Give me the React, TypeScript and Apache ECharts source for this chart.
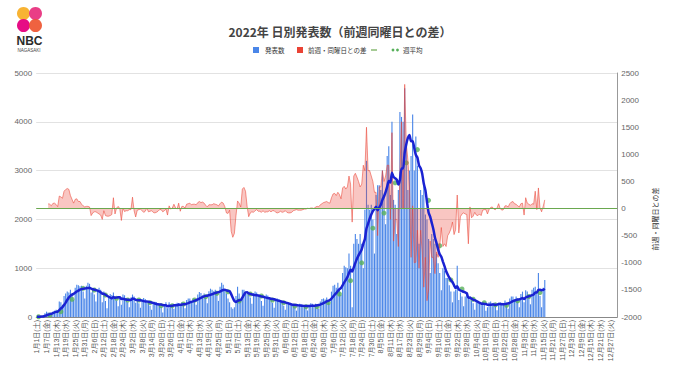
import React, { useEffect, useRef } from 'react';
import * as echarts from 'echarts';

// Daily announced cases, 2022-01-01 .. 2022-11-16 (rows = weeks Sat..Fri)
const dailyCases: number[] = [
  3, 4, 8, 15, 30, 75, 110,
  90, 85, 60, 110, 130, 150, 145,
  320, 300, 250, 430, 480, 520, 500,
  560, 470, 350, 600, 660, 650, 630,
  640, 520, 380, 640, 700, 680, 500,
  560, 460, 320, 560, 600, 560, 300,
  520, 330, 180, 420, 470, 450, 500,
  420, 340, 220, 420, 250, 460, 445,
  380, 300, 200, 400, 460, 420, 290,
  350, 280, 190, 360, 390, 370, 300,
  290, 230, 150, 290, 310, 300, 250,
  270, 210, 90, 250, 300, 180, 300,
  260, 220, 170, 270, 290, 280, 250,
  300, 260, 180, 350, 380, 380, 320,
  380, 340, 250, 460, 510, 490, 440,
  480, 400, 280, 530, 580, 560, 530,
  560, 470, 330, 620, 700, 660, 565,
  480, 380, 300, 200, 170, 200, 430,
  620, 480, 330, 560, 560, 520, 470,
  470, 400, 270, 490, 520, 500, 420,
  420, 330, 230, 420, 460, 440, 380,
  360, 290, 190, 350, 380, 370, 330,
  290, 230, 150, 280, 300, 290, 260,
  250, 200, 130, 250, 270, 260, 240,
  240, 190, 135, 250, 280, 270, 240,
  270, 230, 170, 320, 370, 380, 360,
  400, 340, 270, 520, 640, 660, 600,
  700, 600, 450, 900, 1050, 1020, 1000,
  1300, 1050, 200, 1500, 1700, 1600, 1500,
  1700, 1500, 1000, 2200, 3200, 2300, 2200,
  2300, 2000, 1300, 2500, 2700, 2700, 2600,
  3000, 2500, 1900, 3300, 3500, 2500, 4000,
  2400, 2300, 1700, 2600, 4200, 4100, 4000,
  4690, 3500, 2600, 3000, 3300, 4150, 3000,
  3700, 3100, 1500, 2600, 2500, 2700, 2100,
  2000, 1600, 900, 1700, 1600, 1500, 1300,
  1100, 900, 550, 1000, 950, 800, 800,
  650, 520, 300, 520, 560, 1050, 350,
  500, 420, 220, 420, 450, 400, 380,
  330, 280, 150, 300, 320, 300, 250,
  300, 260, 130, 200, 300, 320, 280,
  290, 240, 140, 290, 300, 290, 260,
  340, 290, 170, 380, 420, 420, 350,
  420, 340, 200, 470, 520, 300, 550,
  520, 420, 260, 560, 600, 620, 530,
  900, 430, 200, 600, 760,
];

// Weekly average points (plotted on Sundays: Jan 2, Jan 9, ...)
const weeklyAvg: number[] = [
  5, 40, 109, 363, 588, 553, 451, 383, 348, 348, 293, 232, 232, 266, 348, 416,
  486, 518, 328, 471, 430, 348, 293, 225, 211, 211, 293, 471, 744, 1110, 1820,
  2130, 2750, 3160, 3430, 2390, 1460, 760, 574, 363, 293, 250, 240, 330, 420, 500,
];
const firstWeeklyDay = 1; // Jan 2 (Sunday)

const YEAR = 2022;
const DAYS_IN_YEAR = 365;
const weekdayNames = ['日', '月', '火', '水', '木', '金', '土'];

const leftMin = 0, leftMax = 5000, leftInterval = 1000;
const rightMin = -2000, rightMax = 2500, rightInterval = 500;

const titleText = '2022年 日別発表数（前週同曜日との差）';
const legendNames = ['発表数', '前週・同曜日との差', '週平均'];
const rightAxisName = '前週・同曜日との差';

function buildDates(): string[] {
  const out: string[] = [];
  for (let i = 0; i < DAYS_IN_YEAR; i++) {
    const dt = new Date(Date.UTC(YEAR, 0, 1 + i));
    out.push(`${dt.getUTCMonth() + 1}月${dt.getUTCDate()}日(${weekdayNames[dt.getUTCDay()]})`);
  }
  return out;
}

export default function App() {
  const ref = useRef<HTMLDivElement>(null);
  useEffect(() => {
    if (!ref.current) return;
    const chart = echarts.init(ref.current, undefined, { renderer: 'svg' });
    const dates = buildDates();
    // difference vs same weekday of previous week
    const diff = dailyCases.map((v, i) => (i < 7 ? '-' : v - dailyCases[i - 7]));
    // trailing 7-day mean
    const avg = dailyCases.map((_, i) => {
      const s = Math.max(0, i - 6);
      let sum = 0;
      for (let j = s; j <= i; j++) sum += dailyCases[j];
      return Math.round(sum / (i - s + 1));
    });
    const dots = weeklyAvg.map((v, k) => [firstWeeklyDay + 7 * k, v]);

    const sans = '"Liberation Sans", Arial, "Noto Sans CJK JP", sans-serif';
    const cjk = '"Noto Sans CJK JP", sans-serif';
    const legendY = 50;
    const plain = (v: number) => String(v);

    chart.setOption({
      animation: false,
      textStyle: { fontFamily: sans },
      title: {
        text: titleText,
        left: 'center',
        top: 20,
        textStyle: { fontSize: 12, fontWeight: 'bold', color: '#444', fontFamily: cjk },
      },
      grid: { left: 36.2, right: 62.8, top: 73, bottom: 65, containLabel: false },
      xAxis: {
        type: 'category',
        data: dates,
        boundaryGap: true,
        axisTick: { show: false },
        axisLine: { lineStyle: { color: '#888' } },
        axisLabel: { interval: 5, rotate: 90, fontSize: 7, color: '#555', margin: 3, fontFamily: sans },
      },
      yAxis: [
        {
          type: 'value', min: leftMin, max: leftMax, interval: leftInterval,
          axisLabel: { fontSize: 8, color: '#666', margin: 4, formatter: plain },
          splitLine: { lineStyle: { color: '#e2e2e2' } },
          axisLine: { show: false }, axisTick: { show: false },
        },
        {
          type: 'value', min: rightMin, max: rightMax, interval: rightInterval, position: 'right',
          axisLabel: { fontSize: 8, color: '#666', margin: 4, formatter: plain },
          splitLine: { show: false },
          axisLine: { show: true, lineStyle: { color: '#999' } }, axisTick: { show: false },
        },
      ],
      series: [
        {
          type: 'bar', name: legendNames[0], data: dailyCases,
          itemStyle: { color: '#4a86e8' }, barCategoryGap: '30%',
        },
        {
          type: 'line', name: legendNames[1], yAxisIndex: 1, data: diff, symbol: 'none',
          lineStyle: { color: '#ea4335', width: 1, opacity: 0.55 },
          areaStyle: { color: '#ea4335', opacity: 0.3 },
          markLine: {
            silent: true, symbol: ['none', 'none'], label: { show: false },
            lineStyle: { color: '#6aa84f', type: 'solid', width: 1 },
            data: [{ yAxis: 0 }],
          },
        },
        {
          type: 'line', name: '移動平均', data: avg, symbol: 'none', smooth: 0.2,
          lineStyle: { color: '#1a22d2', width: 2.5 },
        },
        {
          type: 'scatter', name: legendNames[2], data: dots, symbolSize: 5,
          itemStyle: { color: '#57b05a' },
        },
      ],
      graphic: [
        { type: 'circle', shape: { cx: 23.5, cy: 13.5, r: 6.5 }, style: { fill: '#f8b333' } },
        { type: 'circle', shape: { cx: 35.5, cy: 13.5, r: 6.5 }, style: { fill: '#e8347f', opacity: 0.95 } },
        { type: 'circle', shape: { cx: 23.5, cy: 25.5, r: 6.5 }, style: { fill: '#e5007e', opacity: 0.95 } },
        { type: 'circle', shape: { cx: 35.5, cy: 25.5, r: 6.5 }, style: { fill: '#ee5530', opacity: 0.92 } },
        { type: 'text', x: 16.5, y: 35, style: { text: 'NBC', fontSize: 12, fontWeight: 'bold', fill: '#2b2b2b', fontFamily: sans } },
        { type: 'text', x: 17.5, y: 48.5, style: { text: 'NAGASAKI', fontSize: 4.5, fill: '#444', fontFamily: sans } },

        { type: 'rect', shape: { x: 253, y: legendY - 3, width: 6, height: 6 }, style: { fill: '#4a86e8' } },
        { type: 'text', x: 265, y: legendY, style: { text: legendNames[0], fontSize: 6.5, fill: '#333', verticalAlign: 'middle', fontFamily: cjk } },
        { type: 'rect', shape: { x: 297, y: legendY - 3, width: 6, height: 6 }, style: { fill: '#ea4335' } },
        { type: 'text', x: 308, y: legendY, style: { text: legendNames[1], fontSize: 6.5, fill: '#333', verticalAlign: 'middle', fontFamily: cjk } },
        { type: 'line', shape: { x1: 371, y1: legendY, x2: 377, y2: legendY }, style: { stroke: '#6aa84f', lineWidth: 1.2 } },
        { type: 'circle', shape: { cx: 393, cy: legendY, r: 1.4 }, style: { fill: '#57b05a' } },
        { type: 'circle', shape: { cx: 397.5, cy: legendY, r: 1.4 }, style: { fill: '#57b05a' } },
        { type: 'text', x: 403, y: legendY, style: { text: legendNames[2], fontSize: 6.5, fill: '#333', verticalAlign: 'middle', fontFamily: cjk } },

        {
          type: 'text', x: 655, y: 219, rotation: Math.PI / 2,
          style: { text: rightAxisName, fontSize: 7, fill: '#333', align: 'center', verticalAlign: 'middle', fontFamily: cjk },
        },
      ],
    });
    return () => chart.dispose();
  }, []);
  return <div ref={ref} style={{ width: 680, height: 382, position: 'absolute', left: 0, top: 0 }} />;
}
